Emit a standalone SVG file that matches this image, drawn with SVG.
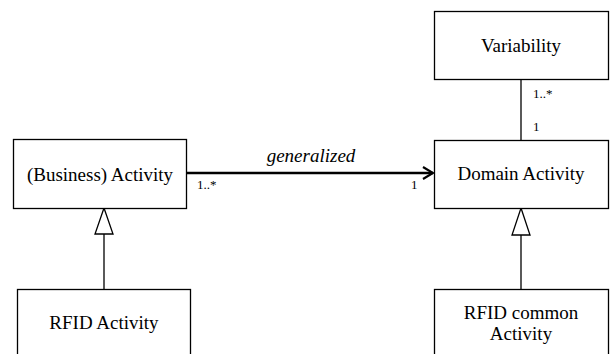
<svg xmlns="http://www.w3.org/2000/svg" width="611" height="354" viewBox="0 0 611 354">
<style>
.box{fill:#fff;stroke:#000;stroke-width:1.3}
text{font-family:'Liberation Serif','Times New Roman',serif;fill:#000}
.t{font-size:19px;text-anchor:middle}
.s{font-size:13px}
.g{font-size:19px;font-style:italic;text-anchor:middle}
.ln{stroke:#000;stroke-width:1.3;fill:none}
</style>
<defs>
<marker id="open" markerWidth="14" markerHeight="14" refX="12" refY="7" orient="auto" markerUnits="userSpaceOnUse" viewBox="0 0 14 14">
<path d="M2,1 L12,7 L2,13" fill="none" stroke="#000" stroke-width="2.2"/>
</marker>
</defs>
<g id="connectors">
<line x1="186" y1="173" x2="433" y2="173" stroke="#000" stroke-width="2.5" marker-end="url(#open)"/>
<text class="g" x="311" y="162">generalized</text>
<text class="s" x="197" y="189">1..*</text>
<text class="s" x="411" y="189">1</text>
<line class="ln" x1="521" y1="79" x2="521" y2="140"/>
<text class="s" x="533" y="98">1..*</text>
<text class="s" x="533" y="131">1</text>
<line class="ln" x1="104" y1="289" x2="104" y2="234"/>
<path d="M104,208 L113,234 L95,234 Z" fill="#fff" stroke="#000" stroke-width="1.3"/>
<line class="ln" x1="521" y1="289" x2="521" y2="235"/>
<path d="M521,208 L530,235 L512,235 Z" fill="#fff" stroke="#000" stroke-width="1.3"/>
</g>
<g id="business">
<rect class="box" x="13.5" y="139.5" width="173" height="69"/>
<text class="t" x="100" y="181">(Business) Activity</text>
</g>
<g id="rfid">
<rect class="box" x="17.5" y="289.5" width="173" height="80"/>
<text class="t" x="104" y="329">RFID Activity</text>
</g>
<g id="variability">
<rect class="box" x="434.5" y="11.5" width="174" height="68"/>
<text class="t" x="521" y="52">Variability</text>
</g>
<g id="domain">
<rect class="box" x="434.5" y="140.5" width="174" height="68"/>
<text class="t" x="521" y="180">Domain Activity</text>
</g>
<g id="rfidcommon">
<rect class="box" x="434.5" y="289.5" width="174" height="80"/>
<text class="t" x="521" y="319">RFID common</text>
<text class="t" x="521" y="340">Activity</text>
</g>
</svg>
